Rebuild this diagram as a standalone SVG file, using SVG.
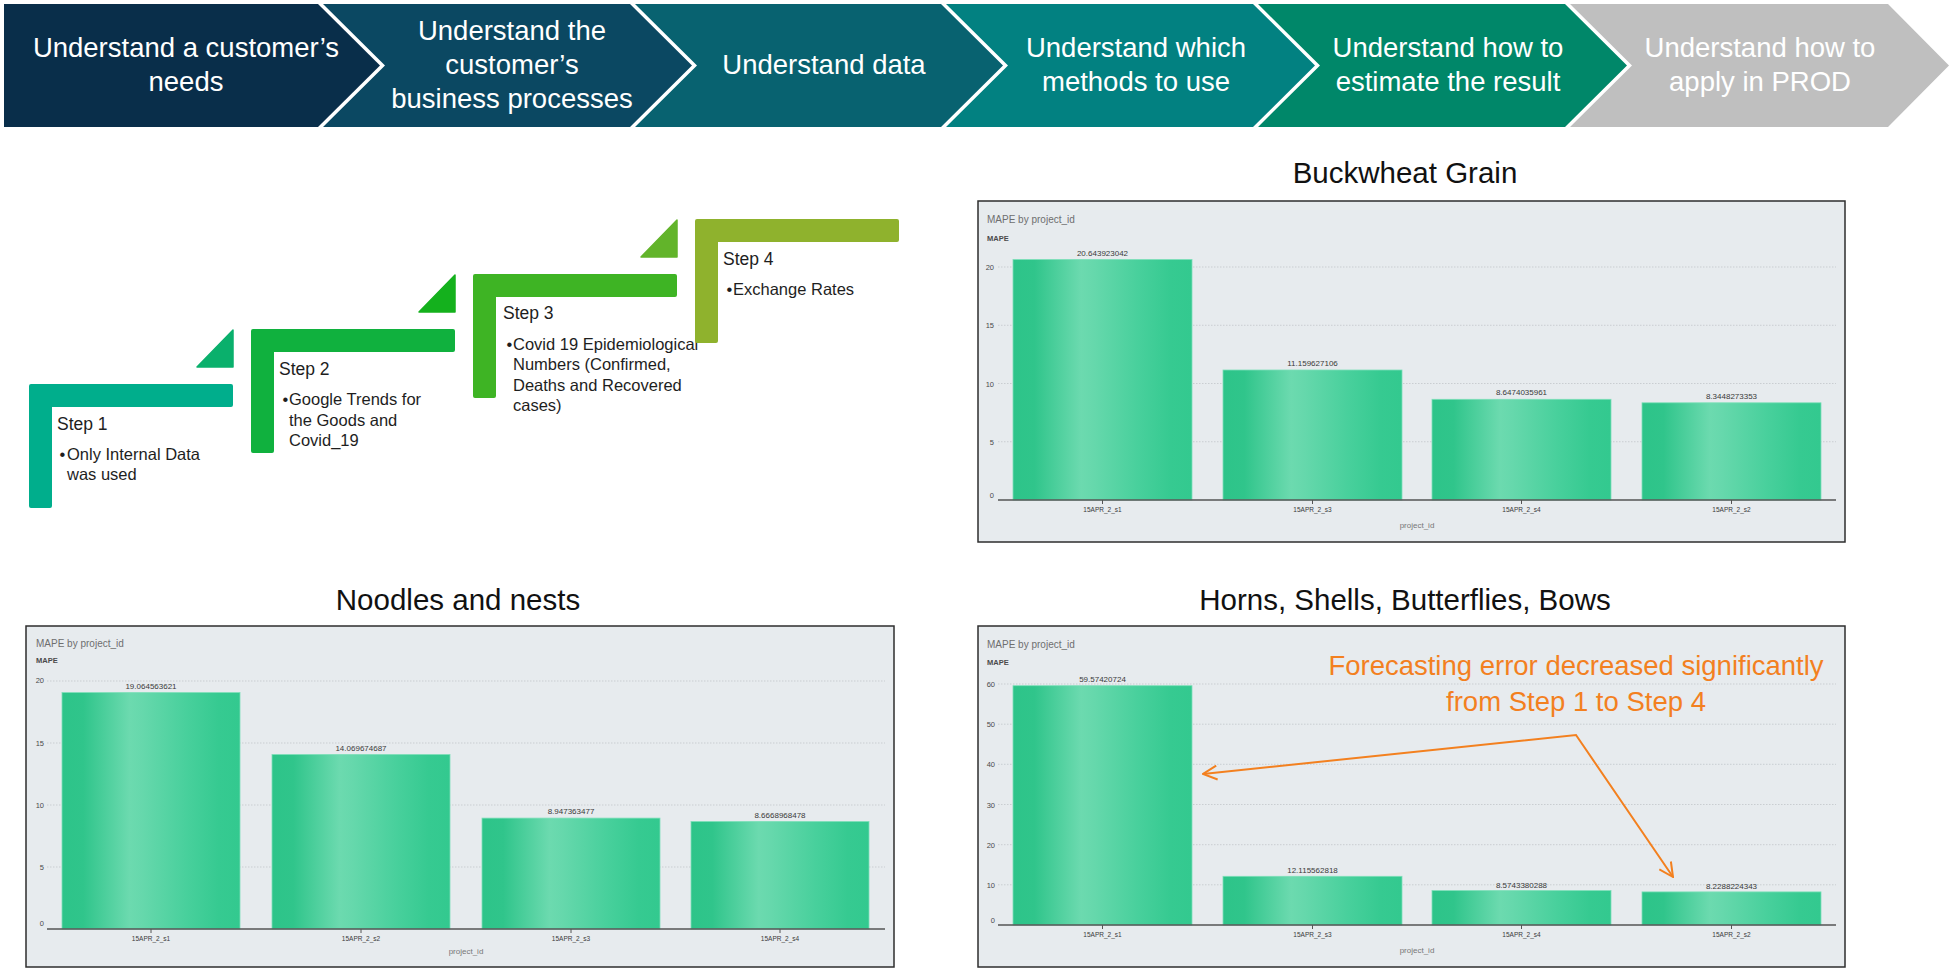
<svg xmlns="http://www.w3.org/2000/svg" width="1955" height="968" viewBox="0 0 1955 968">
<style>
.chev-t{font-family:"Liberation Sans",Arial,sans-serif;font-size:27.5px;fill:#ffffff;text-anchor:middle}
.st-h{font-family:"Liberation Sans",Arial,sans-serif;font-size:17.5px;fill:#1e1e1e}
.st-b{font-family:"Liberation Sans",Arial,sans-serif;font-size:16.5px;fill:#1e1e1e}
.title{font-family:"Liberation Sans",Arial,sans-serif;font-size:29.5px;fill:#111;text-anchor:middle}
.frame{fill:#e7ebee;stroke:#2e2e2e;stroke-width:1.5}
.ctitle{font-family:"Liberation Sans",Arial,sans-serif;font-size:10px;fill:#6e6e6e}
.ylab{font-family:"Liberation Sans",Arial,sans-serif;font-size:7.5px;font-weight:bold;fill:#4a4a4a}
.ytick{font-family:"Liberation Sans",Arial,sans-serif;font-size:7.5px;fill:#4a4a4a;text-anchor:end}
.grid{stroke:#c9cdd1;stroke-width:1;stroke-dasharray:1.5,1.5}
.axis{stroke:#555;stroke-width:1.4}
.bar{fill:url(#barGrad);stroke:#7ddfb8;stroke-width:0.8}
.val{font-family:"Liberation Sans",Arial,sans-serif;font-size:8px;fill:#3a3a3a;text-anchor:middle}
.xl{font-family:"Liberation Sans",Arial,sans-serif;font-size:6.5px;fill:#3a3a3a;text-anchor:middle}
.xt{font-family:"Liberation Sans",Arial,sans-serif;font-size:8px;fill:#777;text-anchor:middle}
.tick{stroke:#555;stroke-width:1}
.note{font-family:"Liberation Sans",Arial,sans-serif;font-size:27.5px;fill:#f3801f;text-anchor:middle}
.conn{fill:none;stroke:#f3801f;stroke-width:2}
</style>
<defs>
<linearGradient id="barGrad" x1="0" y1="0" x2="1" y2="0">
<stop offset="0" stop-color="#2dc489"/>
<stop offset="0.12" stop-color="#30c58b"/>
<stop offset="0.38" stop-color="#6cdaaf"/>
<stop offset="0.45" stop-color="#66d8ac"/>
<stop offset="0.7" stop-color="#48d09c"/>
<stop offset="0.88" stop-color="#36ca91"/>
<stop offset="1" stop-color="#33c98f"/>
</linearGradient>
<marker id="vhead" viewBox="0 0 16 16" markerWidth="16" markerHeight="16" markerUnits="userSpaceOnUse" refX="15" refY="8" orient="auto-start-reverse">
<path d="M1,1 L15,8 L1,15" fill="none" stroke="#f3801f" stroke-width="2"/>
</marker>
</defs>
<rect x="0" y="0" width="1955" height="968" fill="#ffffff"/>

<!-- Banner chevrons -->
<g id="chev1">
<polygon points="4,4 318,4 380,65.5 318,127 4,127" fill="#092e4a"/>
<text class="chev-t" x="186" y="57">Understand a customer’s</text>
<text class="chev-t" x="186" y="91">needs</text>
</g>
<g id="chev2">
<polygon points="323,4 630,4 692,65.5 630,127 323,127 385,65.5" fill="#0b4862"/>
<text class="chev-t" x="512" y="40">Understand the</text>
<text class="chev-t" x="512" y="74">customer’s</text>
<text class="chev-t" x="512" y="108">business processes</text>
</g>
<g id="chev3">
<polygon points="635,4 941,4 1003,65.5 941,127 635,127 697,65.5" fill="#086270"/>
<text class="chev-t" x="824" y="74">Understand data</text>
</g>
<g id="chev4">
<polygon points="946,4 1253,4 1315,65.5 1253,127 946,127 1008,65.5" fill="#028181"/>
<text class="chev-t" x="1136" y="57">Understand which</text>
<text class="chev-t" x="1136" y="91">methods to use</text>
</g>
<g id="chev5">
<polygon points="1258,4 1565,4 1627,65.5 1565,127 1258,127 1320,65.5" fill="#008769"/>
<text class="chev-t" x="1448" y="57">Understand how to</text>
<text class="chev-t" x="1448" y="91">estimate the result</text>
</g>
<g id="chev6">
<polygon points="1570,4 1888,4 1949,65.5 1888,127 1570,127 1632,65.5" fill="#bfbfbf"/>
<text class="chev-t" x="1760" y="57">Understand how to</text>
<text class="chev-t" x="1760" y="91">apply in PROD</text>
</g>

<!-- Steps -->
<g id="step1">
<path d="M29,386 Q29,384 31,384 L231,384 Q233,384 233,386 L233,405 Q233,407 231,407 L52,407 L52,506 Q52,508 50,508 L31,508 Q29,508 29,506 Z" fill="#00ae8c"/>
<path d="M197,367 L233,330 L233,367 Z" fill="#0ab06c" stroke="#0ab06c" stroke-width="1.5" stroke-linejoin="round"/>
<text class="st-h" x="57" y="430">Step 1</text>
<text class="st-b" x="59.5" y="460">•</text>
<text class="st-b" x="67" y="460">Only Internal Data</text>
<text class="st-b" x="67" y="480">was used</text>
</g>
<g id="step2">
<path d="M251,331 Q251,329 253,329 L453,329 Q455,329 455,331 L455,350 Q455,352 453,352 L274,352 L274,451 Q274,453 272,453 L253,453 Q251,453 251,451 Z" fill="#10b13e"/>
<path d="M419,312 L455,275 L455,312 Z" fill="#14b11d" stroke="#14b11d" stroke-width="1.5" stroke-linejoin="round"/>
<text class="st-h" x="279" y="375">Step 2</text>
<text class="st-b" x="282.5" y="405">•</text>
<text class="st-b" x="289" y="405">Google Trends for</text>
<text class="st-b" x="289" y="426">the Goods and</text>
<text class="st-b" x="289" y="446">Covid_19</text>
</g>
<g id="step3">
<path d="M473,276 Q473,274 475,274 L675,274 Q677,274 677,276 L677,295 Q677,297 675,297 L496,297 L496,396 Q496,398 494,398 L475,398 Q473,398 473,396 Z" fill="#3eb424"/>
<path d="M641,257 L677,220 L677,257 Z" fill="#62b42a" stroke="#62b42a" stroke-width="1.5" stroke-linejoin="round"/>
<text class="st-h" x="503" y="319">Step 3</text>
<text class="st-b" x="506.5" y="350">•</text>
<text class="st-b" x="513" y="350">Covid 19 Epidemiological</text>
<text class="st-b" x="513" y="370">Numbers (Confirmed,</text>
<text class="st-b" x="513" y="391">Deaths and Recovered</text>
<text class="st-b" x="513" y="411">cases)</text>
</g>
<g id="step4">
<path d="M695,221 Q695,219 697,219 L897,219 Q899,219 899,221 L899,240 Q899,242 897,242 L718,242 L718,341 Q718,343 716,343 L697,343 Q695,343 695,341 Z" fill="#8fb22d"/>
<text class="st-h" x="723" y="265">Step 4</text>
<text class="st-b" x="726.5" y="295">•</text>
<text class="st-b" x="733" y="295">Exchange Rates</text>
</g>

<!-- Chart 1: Buckwheat Grain -->
<g id="chart-buckwheat">
<text class="title" x="1405" y="183">Buckwheat Grain</text>
<rect class="frame" x="978" y="201" width="867" height="341"/>
<text class="ctitle" x="987" y="223">MAPE by project_id</text>
<text class="ylab" x="987" y="241">MAPE</text>
<line class="grid" x1="998" y1="441.75" x2="1836" y2="441.75"/>
<line class="grid" x1="998" y1="383.5" x2="1836" y2="383.5"/>
<line class="grid" x1="998" y1="325.25" x2="1836" y2="325.25"/>
<line class="grid" x1="998" y1="267" x2="1836" y2="267"/>
<text class="ytick" x="994" y="498">0</text>
<text class="ytick" x="994" y="444.5">5</text>
<text class="ytick" x="994" y="386.5">10</text>
<text class="ytick" x="994" y="328">15</text>
<text class="ytick" x="994" y="270">20</text>
<rect class="bar" x="1013" y="259.5" width="179" height="240.5"/>
<rect class="bar" x="1223" y="370" width="179" height="130"/>
<rect class="bar" x="1432" y="399.3" width="179" height="100.7"/>
<rect class="bar" x="1642" y="402.8" width="179" height="97.2"/>
<text class="val" x="1102.5" y="255.5">20.643923042</text>
<text class="val" x="1312.5" y="366">11.159627106</text>
<text class="val" x="1521.5" y="395.3">8.6474035961</text>
<text class="val" x="1731.5" y="398.8">8.3448273353</text>
<line class="axis" x1="998" y1="500" x2="1836" y2="500"/>
<line class="tick" x1="1102.5" y1="500" x2="1102.5" y2="504"/>
<line class="tick" x1="1312.5" y1="500" x2="1312.5" y2="504"/>
<line class="tick" x1="1521.5" y1="500" x2="1521.5" y2="504"/>
<line class="tick" x1="1731.5" y1="500" x2="1731.5" y2="504"/>
<text class="xl" x="1102.5" y="512">15APR_2_s1</text>
<text class="xl" x="1312.5" y="512">15APR_2_s3</text>
<text class="xl" x="1521.5" y="512">15APR_2_s4</text>
<text class="xl" x="1731.5" y="512">15APR_2_s2</text>
<text class="xt" x="1417" y="528">project_id</text>
</g>

<!-- Chart 2: Noodles and nests -->
<g id="chart-noodles">
<text class="title" x="458" y="610">Noodles and nests</text>
<rect class="frame" x="26" y="626" width="868" height="341"/>
<text class="ctitle" x="36" y="647">MAPE by project_id</text>
<text class="ylab" x="36" y="663">MAPE</text>
<line class="grid" x1="47" y1="867" x2="885" y2="867"/>
<line class="grid" x1="47" y1="805" x2="885" y2="805"/>
<line class="grid" x1="47" y1="743" x2="885" y2="743"/>
<line class="grid" x1="47" y1="681" x2="885" y2="681"/>
<text class="ytick" x="44" y="926">0</text>
<text class="ytick" x="44" y="870">5</text>
<text class="ytick" x="44" y="808">10</text>
<text class="ytick" x="44" y="746">15</text>
<text class="ytick" x="44" y="683">20</text>
<rect class="bar" x="62" y="692.6" width="178" height="236.4"/>
<rect class="bar" x="272" y="754.5" width="178" height="174.5"/>
<rect class="bar" x="482" y="818.1" width="178" height="110.9"/>
<rect class="bar" x="691" y="821.5" width="178" height="107.5"/>
<text class="val" x="151" y="688.6">19.064563621</text>
<text class="val" x="361" y="750.5">14.069674687</text>
<text class="val" x="571" y="814.1">8.947363477</text>
<text class="val" x="780" y="817.5">8.6668968478</text>
<line class="axis" x1="47" y1="929" x2="885" y2="929"/>
<line class="tick" x1="151" y1="929" x2="151" y2="933"/>
<line class="tick" x1="361" y1="929" x2="361" y2="933"/>
<line class="tick" x1="571" y1="929" x2="571" y2="933"/>
<line class="tick" x1="780" y1="929" x2="780" y2="933"/>
<text class="xl" x="151" y="941">15APR_2_s1</text>
<text class="xl" x="361" y="941">15APR_2_s2</text>
<text class="xl" x="571" y="941">15APR_2_s3</text>
<text class="xl" x="780" y="941">15APR_2_s4</text>
<text class="xt" x="466" y="954">project_id</text>
</g>

<!-- Chart 3: Horns, Shells, Butterflies, Bows -->
<g id="chart-horns">
<text class="title" x="1405" y="610">Horns, Shells, Butterflies, Bows</text>
<rect class="frame" x="978" y="626" width="867" height="341"/>
<text class="ctitle" x="987" y="648">MAPE by project_id</text>
<text class="ylab" x="987" y="665">MAPE</text>
<line class="grid" x1="998" y1="884.8" x2="1836" y2="884.8"/>
<line class="grid" x1="998" y1="844.7" x2="1836" y2="844.7"/>
<line class="grid" x1="998" y1="804.5" x2="1836" y2="804.5"/>
<line class="grid" x1="998" y1="764.3" x2="1836" y2="764.3"/>
<line class="grid" x1="998" y1="724.2" x2="1836" y2="724.2"/>
<line class="grid" x1="998" y1="684" x2="1836" y2="684"/>
<text class="ytick" x="995" y="923">0</text>
<text class="ytick" x="995" y="887.8">10</text>
<text class="ytick" x="995" y="847.7">20</text>
<text class="ytick" x="995" y="807.5">30</text>
<text class="ytick" x="995" y="767.3">40</text>
<text class="ytick" x="995" y="727.2">50</text>
<text class="ytick" x="995" y="687">60</text>
<rect class="bar" x="1013" y="685.7" width="179" height="239.3"/>
<rect class="bar" x="1223" y="876.3" width="179" height="48.7"/>
<rect class="bar" x="1432" y="890.6" width="179" height="34.4"/>
<rect class="bar" x="1642" y="891.9" width="179" height="33.1"/>
<text class="val" x="1102.5" y="682">59.57420724</text>
<text class="val" x="1312.5" y="872.8">12.115562818</text>
<text class="val" x="1521.5" y="887.6">8.5743380288</text>
<text class="val" x="1731.5" y="888.9">8.2288224343</text>
<line class="axis" x1="998" y1="925" x2="1836" y2="925"/>
<line class="tick" x1="1102.5" y1="925" x2="1102.5" y2="929"/>
<line class="tick" x1="1312.5" y1="925" x2="1312.5" y2="929"/>
<line class="tick" x1="1521.5" y1="925" x2="1521.5" y2="929"/>
<line class="tick" x1="1731.5" y1="925" x2="1731.5" y2="929"/>
<text class="xl" x="1102.5" y="937">15APR_2_s1</text>
<text class="xl" x="1312.5" y="937">15APR_2_s3</text>
<text class="xl" x="1521.5" y="937">15APR_2_s4</text>
<text class="xl" x="1731.5" y="937">15APR_2_s2</text>
<text class="xt" x="1417" y="953">project_id</text>
</g>

<!-- Annotation -->
<g id="note">
<text class="note" x="1576" y="675">Forecasting error decreased significantly</text>
<text class="note" x="1576" y="711">from Step 1 to Step 4</text>
</g>

<!-- Connectors -->
<g id="connectors">
<polyline class="conn" points="1203,774 1576,735 1673,877" marker-start="url(#vhead)" marker-end="url(#vhead)"/>
</g>
</svg>
